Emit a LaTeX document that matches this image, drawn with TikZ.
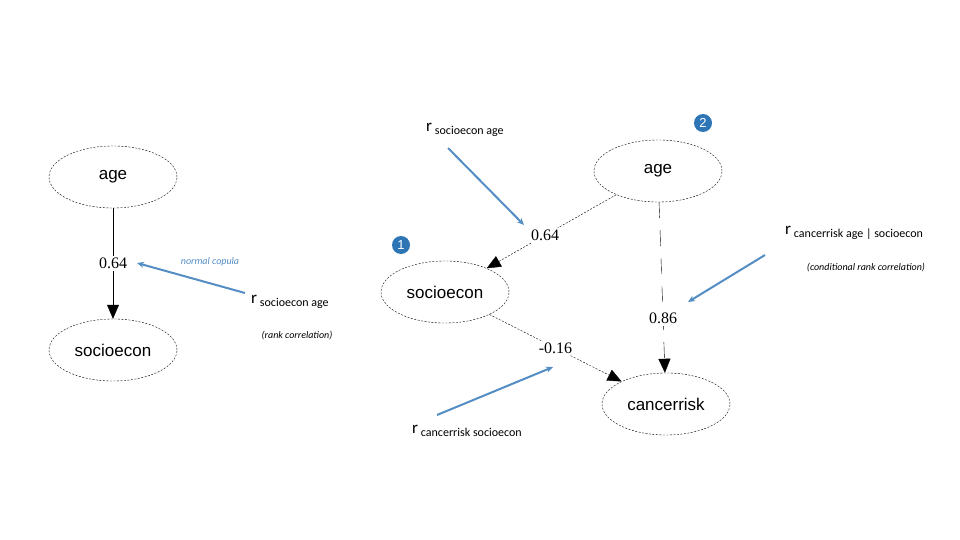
\documentclass[tikz,border=0pt]{standalone}
\usepackage{fontspec}
\setmainfont{Liberation Sans}
\newfontfamily\numfont{Liberation Serif}
\newfontfamily\notefont{Carlito}
\usetikzlibrary{arrows.meta,shapes.geometric}
\definecolor{noteblue}{RGB}{84,141,196}
\definecolor{badgeblue}{RGB}{46,117,182}
\tikzset{
	var/.style={draw, ellipse, dash pattern=on 2pt off 1.5pt, minimum width=128pt, minimum height=62pt, font=\fontsize{17}{20}\selectfont},
	edge/.style={-{Triangle[length=14pt,width=12pt]}},
	weight/.style={fill=white, inner sep=2pt, font=\numfont\fontsize{16}{18}\selectfont},
	note/.style={font=\notefont\fontsize{12}{14}\selectfont, anchor=west, inner sep=0pt},
	remark/.style={font=\notefont\itshape\fontsize{10}{12}\selectfont, inner sep=0pt},
	pointer/.style={noteblue, line width=2pt, -{Stealth[length=7pt,width=6pt]}},
	badge/.style={circle, fill=badgeblue, text=white, inner sep=0pt, minimum size=18pt, font=\fontsize{13}{14}\selectfont}
}
\begin{document}
\begin{tikzpicture}[x=1pt, y=-1pt]
	\useasboundingbox (0,0) rectangle (960,540);
	% left graph
	\node[var] (lage) at (113,177) {age};
	\node[var] (lsoc) at (113,350) {socioecon};
	\draw[edge] (lage) -- node[weight] (lw) {0.64} (lsoc);
	% right graph
	\node[var] (rage) at (658,171) {age};
	\node[var] (rsoc) at (445,292) {socioecon};
	\node[var] (rcan) at (666,404) {cancerrisk};
	\draw[edge, dash pattern=on 2pt off 1.5pt] (rage) -- node[weight, pos=0.55] (wsa) {0.64} (rsoc);
	\draw[edge, dash pattern=on 16pt off 12pt] (rage) -- node[weight, pos=0.68] (wca) {0.86} (rcan);
	\draw[edge, dash pattern=on 2pt off 1.5pt] (rsoc) -- node[weight, pos=0.5] (wcs) {-0.16} (rcan);
	% badges
	\node[badge] (b1) at (401,245) {1};
	\node[badge] (b2) at (703,123) {2};
	% notes
	\node[note] (n1) at (251,302) {\fontsize{17}{18}\selectfont r\,\raisebox{-3pt}{\fontsize{12}{14}\selectfont socioecon age}};
	\node[remark] (n1r) at (297,336) {(rank correlation)};
	\node[remark, text=noteblue] (cop) at (210,262) {normal copula};
	\node[note] (n2) at (426,130) {\fontsize{17}{18}\selectfont r\,\raisebox{-3pt}{\fontsize{12}{14}\selectfont socioecon age}};
	\node[note] (n3) at (785,233) {\fontsize{17}{18}\selectfont r\,\raisebox{-3pt}{\fontsize{12}{14}\selectfont cancerrisk age | socioecon}};
	\node[remark] (n3r) at (866,268) {(conditional rank correlation)};
	\node[note] (n4) at (412,431) {\fontsize{17}{18}\selectfont r\,\raisebox{-3pt}{\fontsize{12}{14}\selectfont cancerrisk socioecon}};
	\coordinate (p1) at (245,293);
	\coordinate (q1) at (137,263);
	\coordinate (p2) at (448,148);
	\coordinate (q2) at (524,225);
	\coordinate (p3) at (765,255);
	\coordinate (q3) at (688,302);
	\coordinate (p4) at (437,415);
	\coordinate (q4) at (553,367);
	\draw[pointer] (p1) -- (q1);
	\draw[pointer] (p2) -- (q2);
	\draw[pointer] (p3) -- (q3);
	\draw[pointer] (p4) -- (q4);
\end{tikzpicture}
\end{document}
